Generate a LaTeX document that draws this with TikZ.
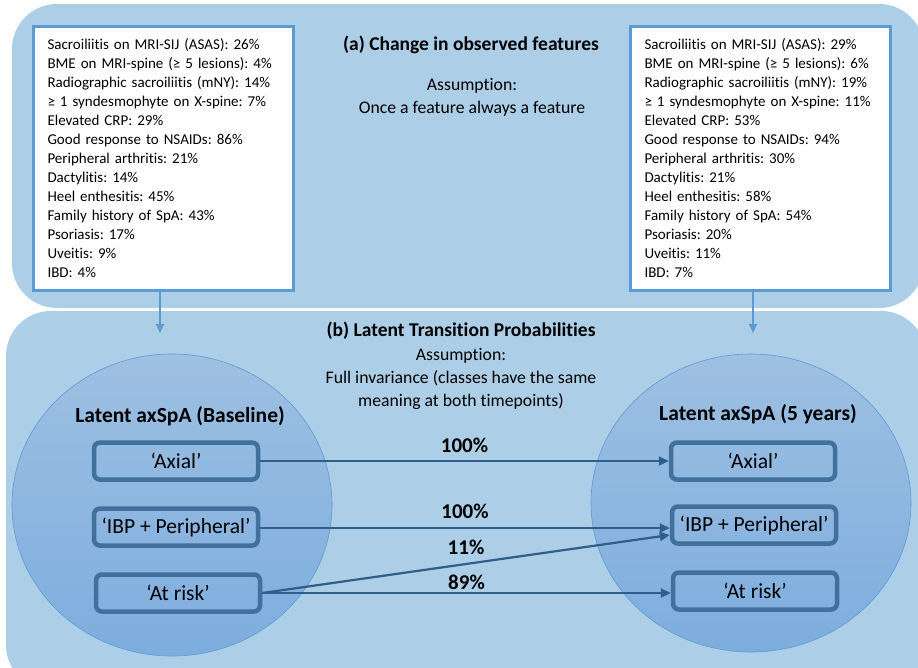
\documentclass[tikz,border=0pt]{standalone}
\usepackage{fontspec}
\setmainfont{Carlito}[Ligatures=NoCommon]
\frenchspacing
\usetikzlibrary{positioning, arrows.meta, shapes.geometric}

\definecolor{panelblue}{RGB}{172,206,230}
\definecolor{featborder}{RGB}{91,155,213}
\definecolor{circtop}{RGB}{158,192,226}
\definecolor{circbot}{RGB}{125,173,222}
\definecolor{classborder}{RGB}{64,112,155}
\definecolor{arrowblue}{RGB}{47,94,138}

\begin{document}
\begin{tikzpicture}[
  x=1pt, y=-1pt,
  font=\fontsize{15}{19}\selectfont,
  featbox/.style={
    rectangle, draw=featborder, fill=white, line width=3pt,
    text width=232pt, minimum height=264pt,
    inner xsep=14pt, align=left
  },
  latent/.style={
    ellipse, draw=featborder, line width=0.6pt,
    top color=circtop, bottom color=circbot,
    minimum width=320pt, minimum height=302pt, inner sep=0pt
  },
  classbox/.style={
    rectangle, rounded corners=6pt, draw=classborder, line width=4.5pt,
    minimum width=164pt, minimum height=37pt, inner sep=0pt,
    font=\fontsize{21.5}{24}\selectfont
  },
  heading/.style={font=\fontsize{19.5}{22}\selectfont\bfseries},
  latenttitle/.style={font=\fontsize{21.5}{24}\selectfont\bfseries},
  note/.style={align=center, font=\fontsize{17.7}{23}\selectfont},
  arr/.style={-{Triangle[length=10pt,width=9pt]}, line width=2.2pt, draw=arrowblue},
  down/.style={-{Triangle[length=9pt,width=8pt]}, line width=2pt, draw=featborder},
  prob/.style={midway, inner sep=0pt, font=\fontsize{21}{24}\selectfont\bfseries}
]

\clip (0,0) rectangle (918,667);
\fill[white] (0,0) rectangle (918,667);
\fill[panelblue, rounded corners=45pt] (12,4) rectangle (924,308);
\fill[panelblue, rounded corners=45pt] (6,311) rectangle (926,690);

\node[heading] (titleA) at (471,45) {(a) Change in observed features};
\node[note] (noteA) at (472,97) {Assumption:\\Once a feature always a feature};

\node[featbox] (featL) at (163.5,158.5) {
  Sacroiliitis on MRI-SIJ (ASAS): 26\%\\
  BME on MRI-spine (≥ 5 lesions): 4\%\\
  Radiographic sacroiliitis (mNY): 14\%\\
  ≥ 1 syndesmophyte on X-spine: 7\%\\
  Elevated CRP: 29\%\\
  Good response to NSAIDs: 86\%\\
  Peripheral arthritis: 21\%\\
  Dactylitis: 14\%\\
  Heel enthesitis: 45\%\\
  Family history of SpA: 43\%\\
  Psoriasis: 17\%\\
  Uveitis: 9\%\\
  IBD: 4\%
};

\node[featbox] (featR) at (760.5,158.5) {
  Sacroiliitis on MRI-SIJ (ASAS): 29\%\\
  BME on MRI-spine (≥ 5 lesions): 6\%\\
  Radiographic sacroiliitis (mNY): 19\%\\
  ≥ 1 syndesmophyte on X-spine: 11\%\\
  Elevated CRP: 53\%\\
  Good response to NSAIDs: 94\%\\
  Peripheral arthritis: 30\%\\
  Dactylitis: 21\%\\
  Heel enthesitis: 58\%\\
  Family history of SpA: 54\%\\
  Psoriasis: 20\%\\
  Uveitis: 11\%\\
  IBD: 7\%
};

\node[heading] (titleB) at (461,331) {(b) Latent Transition Probabilities};
\node[note] (noteB) at (461,379) {Assumption:\\Full invariance (classes have the same\\meaning at both timepoints)};

\node[latent] (base) at (172,505) {};
\node[latent, minimum height=298pt] (five) at (751,503) {};

\node[latenttitle] (baseT) at (180,416) {Latent axSpA (Baseline)};
\node[latenttitle] (fiveT) at (758,414) {Latent axSpA (5 years)};

\node[classbox] (axialL) at (176,461) {‘Axial’};
\node[classbox] (ibpL) at (176,527) {‘IBP + Peripheral’};
\node[classbox] (riskL) at (178,593) {‘At risk’};

\node[classbox] (axialR) at (753,461) {‘Axial’};
\node[classbox] (ibpR) at (754,525) {‘IBP + Peripheral’};
\node[classbox] (riskR) at (755,591) {‘At risk’};

\coordinate (downL) at (160,333);
\coordinate (downR) at (753,333);
\draw[down] (featL.south -| downL) -- (downL);
\draw[down] (featR.south -| downR) -- (downR);

\draw[arr] (axialL.east) -- node[prob, above=7pt] {100\%} (axialL.east -| axialR.west);
\draw[arr] ([yshift=-1pt]ibpL.east) -- node[prob, above=8pt] {100\%} ([yshift=-1pt]ibpL.east -| ibpR.west);
\draw[arr] (riskL.east) -- node[prob, above=8pt] {11\%} ([yshift=-10pt]ibpR.west);
\draw[arr] (riskL.east) -- node[prob, above=2pt] {89\%} (riskL.east -| riskR.west);

\end{tikzpicture}
\end{document}
